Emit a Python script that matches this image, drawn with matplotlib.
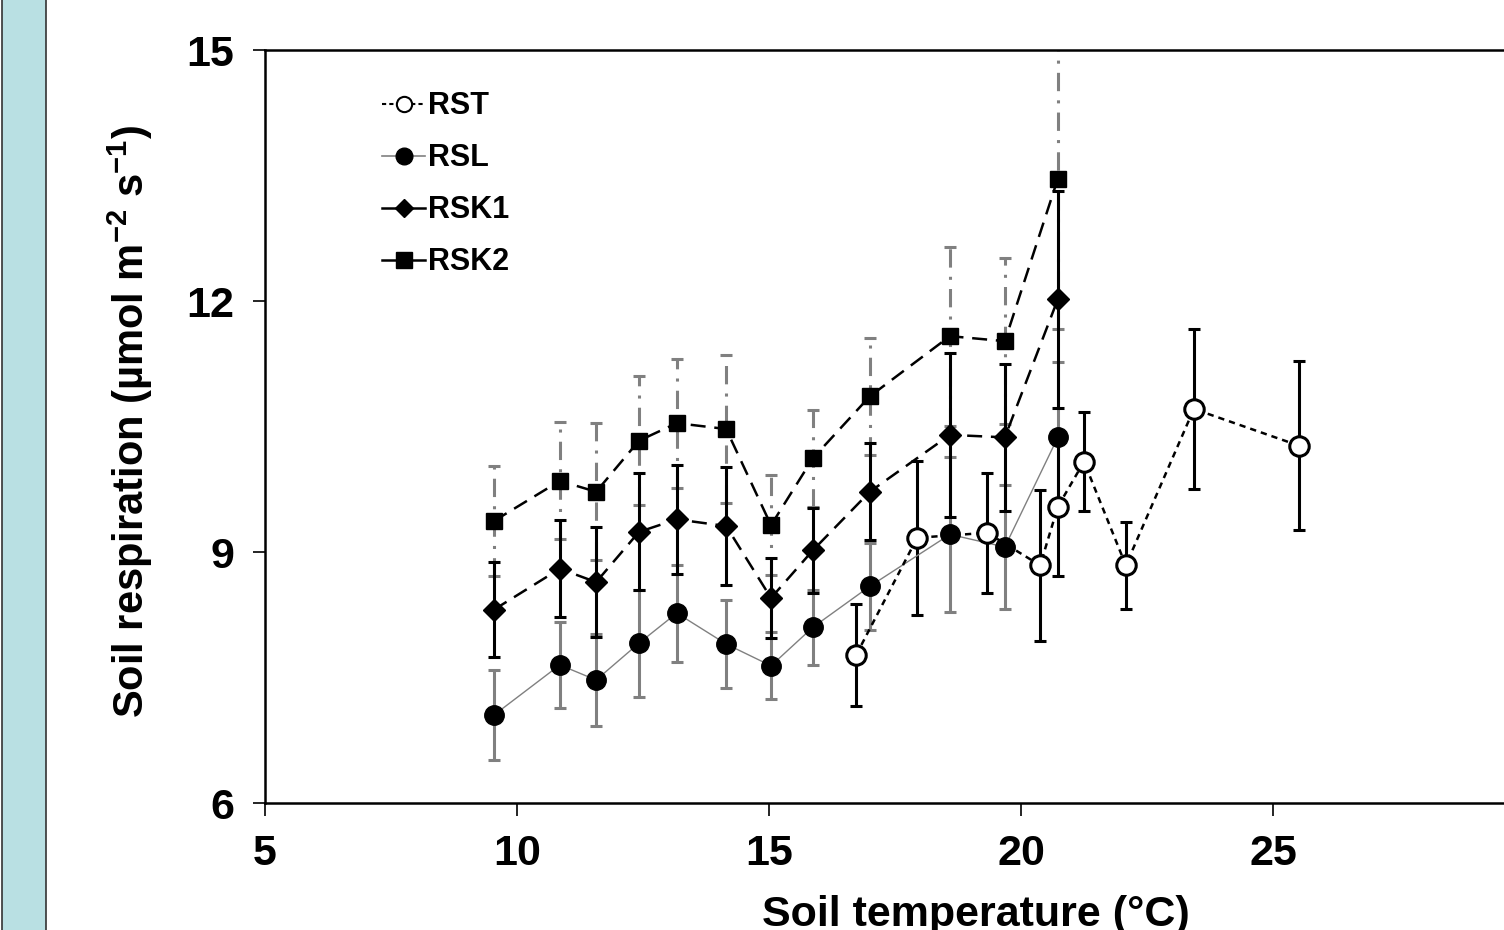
import numpy as np
import matplotlib.pyplot as plt
from matplotlib.lines import Line2D
from matplotlib.patches import Rectangle

plt.rcParams['font.family'] = ['Liberation Sans', 'DejaVu Sans']
plt.rcParams['font.weight'] = 'bold'
plt.rcParams['mathtext.fontset'] = 'custom'
plt.rcParams['mathtext.rm'] = 'Liberation Sans:bold'
plt.rcParams['mathtext.default'] = 'rm'

# soil temperature (°C) for the RSL / RSK1 / RSK2 plots
temp = [9.54, 10.85, 11.57, 12.42, 13.17, 14.15, 15.04, 15.87, 17.0, 18.59, 19.68, 20.73]
rsl = [7.05, 7.65, 7.47, 7.91, 8.27, 7.90, 7.64, 8.10, 8.59, 9.21, 9.06, 10.37]
rsl_err = [0.54, 0.51, 0.55, 0.64, 0.58, 0.53, 0.40, 0.45, 0.52, 0.93, 0.74, 0.90]
rsk1 = [8.31, 8.80, 8.64, 9.24, 9.39, 9.31, 8.45, 9.02, 9.72, 10.40, 10.37, 12.02]
rsk1_err = [0.57, 0.58, 0.66, 0.70, 0.65, 0.71, 0.48, 0.51, 0.58, 0.98, 0.88, 1.30]
rsk2 = [9.37, 9.85, 9.72, 10.33, 10.54, 10.47, 9.32, 10.12, 10.86, 11.58, 11.52, 13.46]
rsk2_err = [0.66, 0.70, 0.82, 0.77, 0.77, 0.88, 0.60, 0.58, 0.70, 1.07, 0.99, 1.80]

# RST plot has its own temperatures
temp_rst = [16.73, 17.94, 19.33, 20.38, 20.73, 21.25, 22.08, 23.43, 25.52]
rst = [7.77, 9.17, 9.23, 8.84, 9.54, 10.08, 8.84, 10.71, 10.27]
rst_err = [0.61, 0.92, 0.72, 0.90, 0.83, 0.59, 0.52, 0.96, 1.01]

W, H = 1504, 930
fig = plt.figure(figsize=(W / 100, H / 100), dpi=100)

# light blue strip on the left
fig.patches.append(Rectangle((2 / W, -0.01), 44 / W, 1.02, transform=fig.transFigure,
                             facecolor='#b9e0e3', edgecolor='#333333', lw=1.2))

x0, x1 = 265, 1525
ax = fig.add_axes([x0 / W, 1 - 803 / H, (x1 - x0) / W, (803 - 50) / H])

gray = '#808080'

# error bars
eb = ax.errorbar(temp, rsk2, yerr=rsk2_err, fmt='none', ecolor=gray, elinewidth=2.2,
                 capsize=4, capthick=2.2, zorder=2)
for c in eb[2]:
    c.set_linestyle((0, (6, 3, 1, 3)))
ax.errorbar(temp, rsl, yerr=rsl_err, fmt='none', ecolor=gray, elinewidth=2.2,
            capsize=4, capthick=2.2, zorder=2)
ax.errorbar(temp, rsk1, yerr=rsk1_err, fmt='none', ecolor='black', elinewidth=2.2,
            capsize=4, capthick=2.2, zorder=3)
ax.errorbar(temp_rst, rst, yerr=rst_err, fmt='none', ecolor='black', elinewidth=2.2,
            capsize=4, capthick=2.2, zorder=3)

# lines and markers
ax.plot(temp, rsl, color=gray, lw=1.0, zorder=4)
ax.plot(temp, rsl, 'o', color='black', ms=14, zorder=5)
ax.plot(temp, rsk1, color='black', lw=1.8, ls=(0, (6, 3.5)), zorder=4)
ax.plot(temp, rsk1, 'D', color='black', ms=11, zorder=5)
ax.plot(temp, rsk2, color='black', lw=1.8, ls=(0, (6, 3.5)), zorder=4)
ax.plot(temp, rsk2, 's', color='black', ms=12, zorder=5)
ax.plot(temp_rst, rst, color='black', lw=1.8, ls=(0, (2.5, 2)), zorder=4)
ax.plot(temp_rst, rst, 'o', mfc='white', mec='black', mew=2.2, ms=14, zorder=5)

ax.set_xlim(5, 30)
ax.set_ylim(6, 15)
ax.set_xticks([5, 10, 15, 20, 25])
ax.set_yticks([6, 9, 12, 15])
ax.tick_params(direction='out', length=9, width=1.2, labelsize=31, pad=13)
for sp in ax.spines.values():
    sp.set_linewidth(1.8)

ax.set_xlabel('Soil temperature (°C)', fontsize=31, fontweight='bold')
ax.xaxis.set_label_coords(0.564, -0.122)
ax.xaxis.label.set_va('top')
ax.set_ylabel('Soil respiration (µmol m$^{-2}$ s$^{-1}$)', fontsize=30, fontweight='bold')
ax.yaxis.set_label_coords(-0.107, 0.506)
ax.yaxis.label.set_va('center')

handles = [
    Line2D([], [], color='black', lw=1.5, ls=(0, (2, 1.5)), marker='o', mfc='white',
           mec='black', mew=1.5, ms=11),
    Line2D([], [], color=gray, lw=1.2, marker='o', mfc='black', mec='black', ms=12),
    Line2D([], [], color='black', lw=1.8, marker='D', ms=9),
    Line2D([], [], color='black', lw=1.8, marker='s', ms=11),
]
ax.legend(handles, ['RST', 'RSL', 'RSK1', 'RSK2'], loc='upper left',
          bbox_to_anchor=(0.093, 0.945), frameon=False,
          handlelength=1.4, handletextpad=0.1, labelspacing=0.72,
          borderpad=0, borderaxespad=0, prop={'weight': 'bold', 'size': 22})

fig.savefig('out.png', dpi=100)
